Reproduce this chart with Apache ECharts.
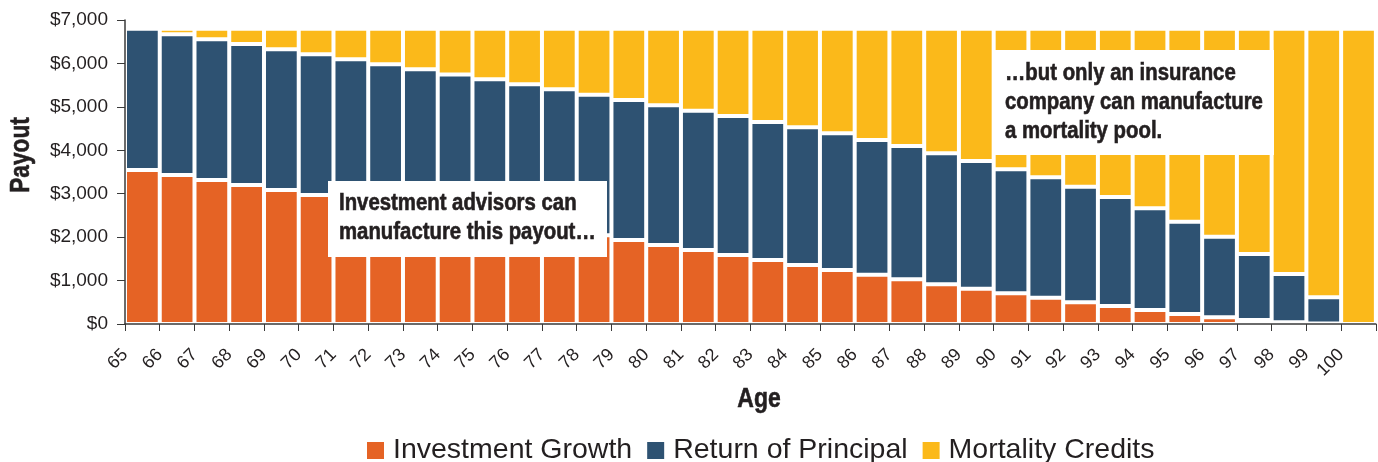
<!DOCTYPE html>
<html>
<head>
<meta charset="utf-8">
<script src="https://cdn.jsdelivr.net/npm/echarts@6/dist/echarts.min.js"></script>
<style>
html,body{margin:0;padding:0;background:#fff;}
#chart{width:1378px;height:462px;}
</style>
</head>
<body>
<div id="chart"></div>
<script>
const ages = ['65','66','67','68','69','70','71','72','73','74','75','76','77','78','79','80','81','82','83','84','85','86','87','88','89','90','91','92','93','94','95','96','97','98','99','100'];
const investmentGrowth = [3546,3431,3316,3201,3086,2970,2855,2740,2625,2510,2395,2280,2165,2042,1934,1819,1704,1589,1474,1359,1243,1135,1029,914,813,707,606,500,414,322,230,155,90,40,10,0];
const returnOfPrincipal = [3254,3240,3239,3246,3239,3240,3240,3240,3240,3235,3240,3239,3239,3238,3224,3217,3207,3201,3177,3170,3148,3102,3070,3017,2940,2855,2772,2662,2510,2342,2126,1855,1522,1111,605,0];
const mortalityCredits = [0,129,245,353,475,590,705,820,935,1055,1165,1281,1396,1520,1642,1764,1889,2010,2149,2271,2409,2563,2701,2869,3047,3238,3422,3638,3876,4136,4444,4790,5188,5649,6185,6800];
const seriesNames = ['Investment Growth','Return of Principal','Mortality Credits'];
const yTicks = [0,1000,2000,3000,4000,5000,6000,7000];
const note1 = 'Investment advisors can\nmanufacture this payout\u2026';
const note2 = '\u2026but only an insurance\ncompany can manufacture\na mortality pool.';

const colors = ['#E56325','#2E5272','#FBB91A'];
const txt = '#231F20';
const bold = '"Liberation Sans",Arial,Helvetica,sans-serif';
const reg = '"Liberation Sans",Arial,Helvetica,sans-serif';

const chart = echarts.init(document.getElementById('chart'));
const mk = (name, data, i) => ({
  name, type: 'bar', stack: 'total', data,
  barCategoryGap: '0%',
  itemStyle: { color: colors[i], borderColor: '#fff', borderWidth: 2 },
  emphasis: { disabled: true }
});
const heavy = { fill: txt, stroke: txt, lineWidth: 0.6 };
chart.setOption({
  animation: false,
  color: colors,
  grid: { left: 125, right: -9, top: 20, bottom: 138, containLabel: false },
  xAxis: [
    { type: 'category', data: ages, gridIndex: 0, position: 'bottom', z: 10,
      axisLine: { show: true, lineStyle: { color: '#3a3a3a', width: 1.5 } },
      axisTick: { show: false }, axisLabel: { show: false } },
    { type: 'value', min: 0, max: ages.length, interval: 1, gridIndex: 0, position: 'bottom', z: 10,
      axisLine: { show: false }, splitLine: { show: false },
      axisTick: { show: true, length: 7, lineStyle: { color: '#3a3a3a', width: 1 } },
      axisLabel: { show: true, rotate: 45, margin: 28, fontSize: 18, color: txt, fontFamily: reg,
        formatter: v => (ages[v] !== undefined ? ages[v] : '') } }
  ],
  yAxis: {
    type: 'value', min: yTicks[0], max: yTicks[yTicks.length-1], interval: 1000, z: 10,
    axisLine: { show: true, lineStyle: { color: '#3a3a3a', width: 1.5 } },
    axisTick: { show: true, length: 8, lineStyle: { color: '#3a3a3a' } },
    splitLine: { show: false },
    axisLabel: { margin: 17, fontSize: 19, color: txt, fontFamily: reg,
      formatter: v => '$' + v.toLocaleString('en-US') }
  },
  legend: {
    data: seriesNames, left: 362, top: 431, icon: 'rect',
    itemWidth: 17, itemHeight: 17, itemGap: 15,
    itemStyle: { borderWidth: 0 },
    textStyle: { fontSize: 28.5, color: txt, fontFamily: reg, padding: [0,0,0,4] }
  },
  series: [
    mk(seriesNames[0], investmentGrowth, 0),
    mk(seriesNames[1], returnOfPrincipal, 1),
    mk(seriesNames[2], mortalityCredits, 2)
  ],
  graphic: [
    { type: 'rect', z: 100, shape: { x: 328, y: 181, width: 279, height: 76 }, style: { fill: '#fff' } },
    { type: 'text', z: 101, x: 339, y: 189.5, scaleX: 0.885, style: Object.assign({ text: note1, font: 'bold 23px ' + bold, lineHeight: 29, textVerticalAlign: 'top' }, heavy) },
    { type: 'rect', z: 100, shape: { x: 993, y: 50, width: 281, height: 105 }, style: { fill: '#fff' } },
    { type: 'text', z: 101, x: 1005, y: 59.5, scaleX: 0.885, style: Object.assign({ text: note2, font: 'bold 23px ' + bold, lineHeight: 29, textVerticalAlign: 'top' }, heavy) },
    { type: 'text', z: 101, x: 759, y: 399, scaleX: 0.82, style: Object.assign({ text: 'Age', font: 'bold 28px ' + bold, textAlign: 'center', textVerticalAlign: 'middle' }, heavy) },
    { type: 'text', z: 101, x: 22, y: 155, rotation: Math.PI/2, scaleX: 0.84, style: Object.assign({ text: 'Payout', font: 'bold 27px ' + bold, textAlign: 'center', textVerticalAlign: 'middle' }, heavy) }
  ]
});
</script>
</body>
</html>
